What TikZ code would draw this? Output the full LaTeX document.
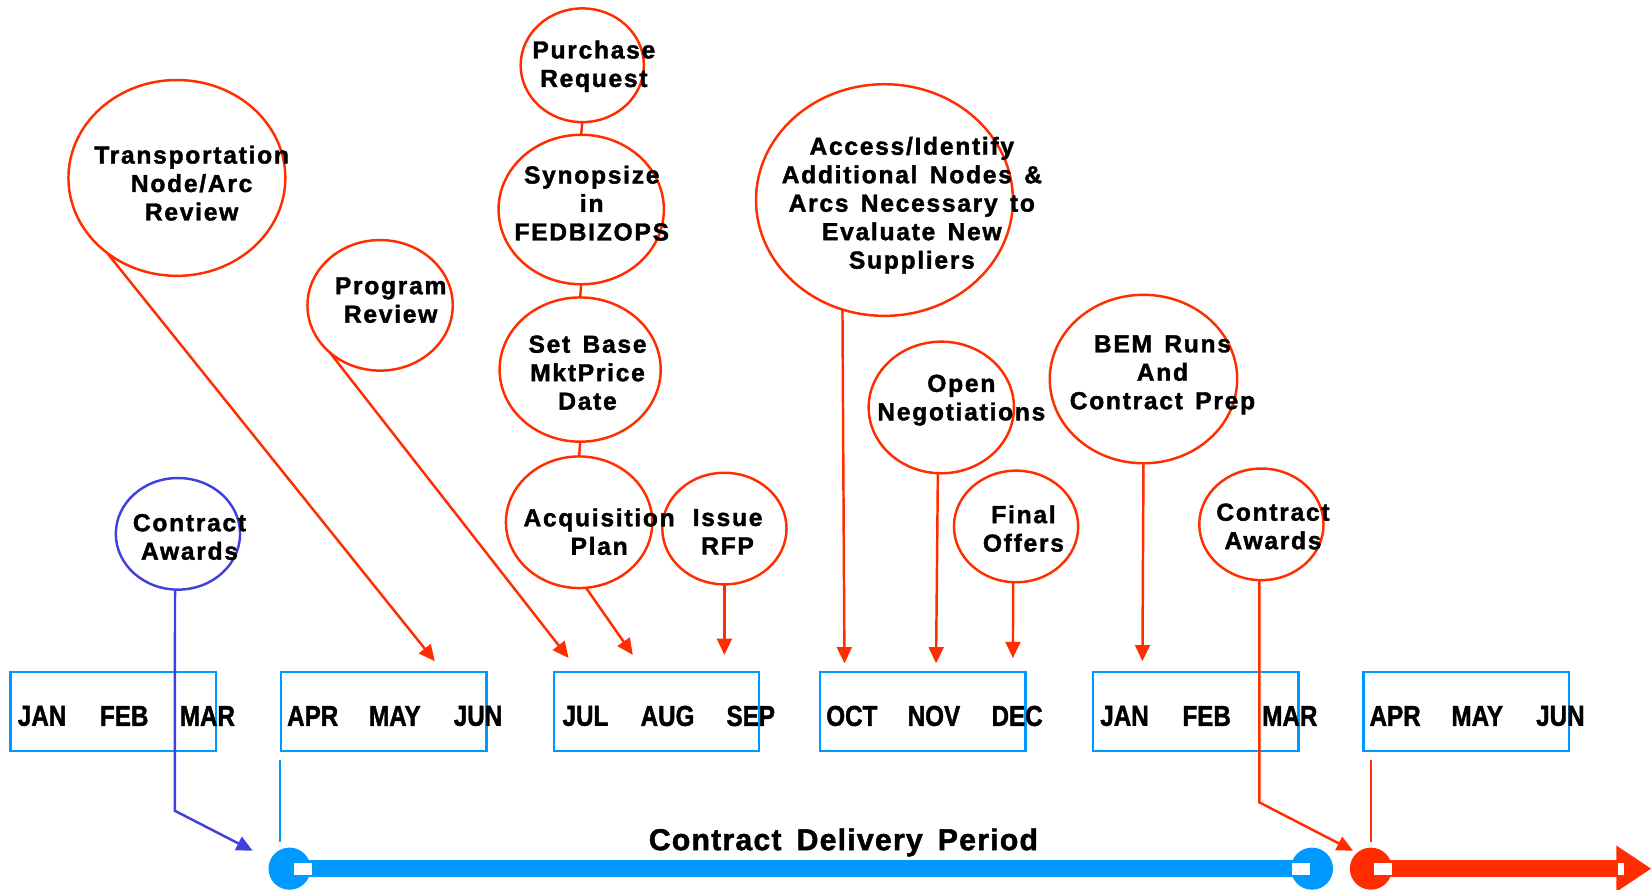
\documentclass[tikz,border=0pt]{standalone}
\usepackage{fontspec}
\setmainfont{Liberation Sans}
\newfontfamily\lsfont[LetterSpace=7,FakeBold=1.6]{Liberation Sans Bold}
\newfontfamily\lsbig[LetterSpace=4,FakeBold=1.6]{Liberation Sans Bold}
\newfontfamily\monfont[FakeBold=1.6]{Liberation Sans Bold}
\usetikzlibrary{shapes.geometric,arrows.meta}
\definecolor{cred}{RGB}{255,45,0}
\definecolor{cblue}{RGB}{0,153,255}
\definecolor{cblueb}{RGB}{64,64,220}
\newcommand\wsp{\hspace{0.5em}}
\begin{document}
\begin{tikzpicture}[x=0.01053cm,y=-0.01053cm,
  ell/.style 2 args={ellipse,draw=cred,line width=0.7pt,inner sep=0pt,outer sep=0pt,
     minimum width=#1*0.01053cm,minimum height=#2*0.01053cm},
  txt/.style={font={\lsfont\fontsize{7pt}{8.1pt}\selectfont},align=center,inner sep=0pt,text=black},
  mon/.style={font={\monfont\fontsize{8.2pt}{9pt}\selectfont},inner sep=0pt,xscale=0.84,transform shape},
  mbox/.style={draw=cblue,line width=0.7pt,minimum width=195*0.01053cm,minimum height=75*0.01053cm,inner sep=0pt,outer sep=0pt},
  rarrow/.style={draw=cred,line width=0.7pt,-{Triangle[length=4.6pt,width=4.2pt]}},
  rline/.style={draw=cred,line width=0.7pt},
  barcol/.style={fill=cblue}
]
\useasboundingbox (0,0) rectangle (1568,845);

% ellipses
\node[ell={206}{186}] (trans) at (168,169) {};
\node[ell={138}{124}] (prog) at (361,290) {};
\node[ell={117}{108}] (pr) at (553,62) {};
\node[ell={157}{142}] (syn) at (552,199) {};
\node[ell={153}{137}] (setb) at (551,351) {};
\node[ell={139}{125}] (acq) at (550,496) {};
\node[ell={118}{106}] (rfp) at (688,502) {};
\node[ell={244}{220}] (acc) at (840,190) {};
\node[ell={138}{125}] (open) at (894,387) {};
\node[ell={178}{160}] (bem) at (1086,360) {};
\node[ell={118}{106}] (final) at (965,500) {};
\node[ell={118}{106}] (car) at (1198,498) {};
\node[ell={118}{106},draw=cblueb] (cab) at (169,507) {};

% texts
\node[txt] (ttrans) at (182,174) {Transportation\\Node/Arc\\Review};
\node[txt] (tprog) at (371,285) {Program\\Review};
\node[txt] (tpr) at (564,63) {Purchase\\Request};
\node[txt] (tsyn) at (562,193) {Synopsize\\in\\FEDBIZOPS};
\node[txt] (tsetb) at (558,354) {Set\wsp Base\\MktPrice\\Date};
\node[txt] (tacq) at (569,505) {Acquisition\\Plan};
\node[txt] (trfp) at (691,505) {Issue\\RFP};
\node[txt] (tacc) at (866,195) {Access/Identify\\Additional\wsp Nodes\wsp \&\\Arcs\wsp Necessary\wsp to\\Evaluate\wsp New\\Suppliers};
\node[txt] (topen) at (913,380) {Open\\Negotiations};
\node[txt] (tbem) at (1104,356) {BEM\wsp Runs\\And\\Contract\wsp Prep};
\node[txt] (tfinal) at (972,502) {Final\\Offers};
\node[txt] (tcar) at (1209,500) {Contract\\Awards};
\node[txt] (tcab) at (180,510) {Contract\\Awards};

% stack connectors
\draw[rline] (pr.south) -- (syn.north);
\draw[rline] (syn.south) -- (setb.north);
\draw[rline] (setb.south) -- (acq.north);

% month boxes
\foreach \i/\l in {1/10,2/267,3/526,4/779,5/1038,6/1295}{
  \node[mbox] (box\i) at (\l+97.5,675.5) {};
}
\foreach \l/\a/\b/\c [count=\i] in {10/JAN/FEB/MAR,267/APR/MAY/JUN,526/JUL/AUG/SEP,779/OCT/NOV/DEC,1038/JAN/FEB/MAR,1295/APR/MAY/JUN}{
  \node[mon] (ma\i) at (\l+30,680) {\a};
  \node[mon] (mb\i) at (\l+108,680) {\b};
  \node[mon] (mc\i) at (\l+187,680) {\c};
}

% arrow targets
\coordinate (ttr) at (413,628);
\coordinate (tpg) at (540,625);
\coordinate (tac) at (601,622);
\coordinate (trf) at (688,622);
\coordinate (tas) at (802,630);
\coordinate (top) at (889,630);
\coordinate (tfi) at (962,625);
\coordinate (tbe) at (1085,628);
\coordinate (kcar) at (1196,762);
\coordinate (tcarr) at (1285,808);
\coordinate (kcab) at (166,770);
\coordinate (tcabb) at (240,808);

\draw[rarrow] (trans.227.5) -- (ttr);
\draw[rarrow] (prog.223.8) -- (tpg);
\draw[rarrow] (acq.276.4) -- (tac);
\draw[rarrow] (rfp.south) -- (trf);
\draw[rarrow] (acc.249) -- (tas);
\draw[rarrow] (open.267) -- (top);
\draw[rarrow] (final.267) -- (tfi);
\draw[rarrow] (bem.270) -- (tbe);
\draw[rarrow] (car.268) -- (kcar) -- (tcarr);
\draw[draw=cblueb,line width=0.7pt,-{Triangle[length=4.6pt,width=4.2pt]}] (cab.267) -- (kcab) -- (tcabb);

% thin vertical lines
\coordinate (vb1) at (266,722);
\coordinate (vb2) at (266,800);
\coordinate (vr1) at (1302,722);
\coordinate (vr2) at (1302,800);
\draw[cblue,line width=0.6pt] (vb1) -- (vb2);
\draw[cred,line width=0.6pt] (vr1) -- (vr2);

% bottom bar
\fill[cblue] (275,817) rectangle (1246,833);
\fill[cblue] (275,825) circle[radius=0.2106cm];
\fill[cblue] (1246,825) circle[radius=0.2106cm];
\fill[white] (279,820) rectangle (296,831);
\fill[white] (1227,820) rectangle (1244,831);
\fill[cred] (1302,817) rectangle (1537,833);
\fill[cred] (1302,825) circle[radius=0.2106cm];
\fill[white] (1305,820) rectangle (1322,831);
\fill[cred] (1535,803) -- (1568,825) -- (1535,847) -- cycle;
\fill[white] (1537,820) rectangle (1542,831);

\node[font={\lsbig\fontsize{8.6pt}{10pt}\selectfont},inner sep=0pt] (cdp) at (801,800) {Contract\wsp Delivery\wsp Period};
\end{tikzpicture}
\end{document}
